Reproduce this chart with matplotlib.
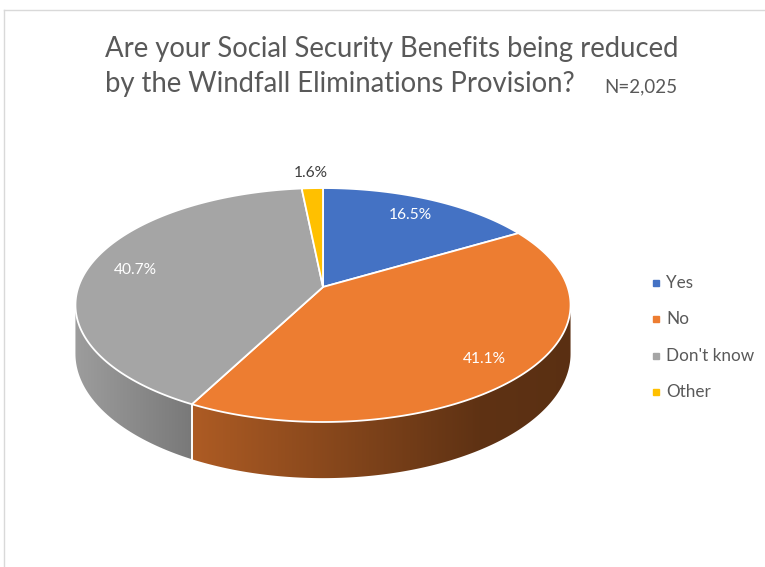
import numpy as np
import matplotlib
matplotlib.use('Agg')
import matplotlib.pyplot as plt
from matplotlib.patches import Polygon
from matplotlib.colors import to_rgb

# Données du sondage
categories = ['Yes', 'No', "Don't know", 'Other']
shares = [16.5, 41.1, 40.7, 1.6]
colors = ['#4472C4', '#ED7D31', '#A5A5A5', '#FFC000']
title_lines = ['Are your Social Security Benefits being reduced',
               'by the Windfall Eliminations Provision?']
n_note = 'N=2,025'

FONT = 'Lato'
TXT = '#595959'
W, HPX = 765, 567

# Géométrie du camembert 3D (pixels)
CX, CY = 323, 287      # sommet du camembert
A, B = 244.6, 114.2    # demi-axes
K = 0.154              # perspective
H = 47.5               # épaisseur


def project(theta, r=1.0, drop=0.0):
    u = r * np.sin(theta)
    v = r * np.cos(theta)
    s = 1.0 / (1.0 + K * v)
    return CX + A * u * s, CY - B * v * s + drop * s


def shade(x):
    return np.interp(x, [75, 193, 480, 575], [0.95, 0.73, 0.40, 0.38])


fig = plt.figure(figsize=(W / 100, HPX / 100), dpi=100)
ax = fig.add_axes([0, 0, 1, 1])

# cadre
ax.plot([4, W], [10, 10], color='#D9D9D9', lw=1)
ax.plot([4, 4], [10, HPX], color='#D9D9D9', lw=1)

total = sum(shares)
bounds = np.concatenate([[0], np.cumsum(shares)]) / total * 2 * np.pi

# côtés visibles (avant) avec dégradé horizontal
front_a = np.pi / 2 + np.arcsin(K)
front_b = 2 * np.pi - front_a
gx = np.linspace(0, W, W + 1)
for i, col in enumerate(colors):
    t0 = max(bounds[i], front_a)
    t1 = min(bounds[i + 1], front_b)
    if t1 <= t0:
        continue
    t = np.linspace(t0, t1, 300)
    xt, yt = project(t)
    xb, yb = project(t, drop=H)
    pts = list(zip(xt, yt)) + list(zip(xb[::-1], yb[::-1]))
    clip = Polygon(pts, closed=True, facecolor='none', edgecolor='none')
    ax.add_patch(clip)
    base = np.array(to_rgb(col))
    img = base[None, None, :] * shade(gx)[None, :, None]
    im = ax.imshow(img, extent=[0, W, HPX, 0], aspect='auto',
                   interpolation='bilinear', zorder=1)
    im.set_clip_path(clip)
    # arêtes verticales blanches entre parts
    for tb in (bounds[i], bounds[i + 1]):
        if front_a < tb < front_b:
            x0, y0 = project(tb)
            x1, y1 = project(tb, drop=H)
            ax.plot([x0, x1], [y0, y1], color='white', lw=1.2, zorder=1.5)

# dessus
for i, col in enumerate(colors):
    t = np.linspace(bounds[i], bounds[i + 1], 200)
    xs, ys = project(t)
    pts = [(CX, CY)] + list(zip(xs, ys))
    ax.add_patch(Polygon(pts, closed=True, facecolor=col, edgecolor='white',
                         lw=1.3, joinstyle='round', zorder=2))

# étiquettes de données
label_r = [0.8, 0.83, 0.8, 1.18]
for i, sh in enumerate(shares):
    mid = 0.5 * (bounds[i] + bounds[i + 1])
    lx, ly = project(mid, r=label_r[i])
    ax.text(lx, ly, f'{sh:.1f}%', ha='center', va='center', fontsize=11.2,
            family=FONT, color='white' if label_r[i] < 1 else '#404040',
            zorder=3)

# titre
ax.text(105, 57, title_lines[0], ha='left', va='baseline', fontsize=19.8,
        family=FONT, color=TXT)
ax.text(105, 92, title_lines[1], ha='left', va='baseline', fontsize=19.8,
        family=FONT, color=TXT)
ax.text(604, 92, n_note, ha='left', va='baseline', fontsize=13.5,
        family=FONT, color=TXT)

# légende
for i, (cat, col) in enumerate(zip(categories, colors)):
    y = 283 + i * 36.3
    ax.plot(656, y, marker='s', ms=4.5, color=col, ls='none')
    ax.text(666, y, cat, ha='left', va='center', fontsize=12.3,
            family=FONT, color=TXT)

ax.set_xlim(0, W)
ax.set_ylim(HPX, 0)
ax.axis('off')

fig.savefig('out.png', dpi=100)
